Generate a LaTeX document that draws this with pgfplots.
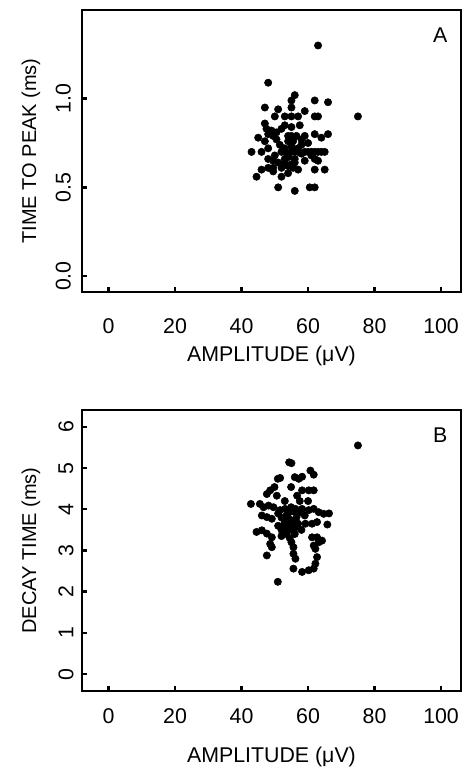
\documentclass[border=0pt]{standalone}
\usepackage{fontspec}
\setmainfont{Liberation Sans}
\usepackage{pgfplots}
\pgfplotsset{compat=1.18}
\begin{document}
\begin{tikzpicture}[font=\fontsize{16pt}{19pt}\selectfont]
\path[use as bounding box] (0,0) rectangle (347.25pt,576pt);
\pgfplotsset{
  myax/.style={
    scale only axis, width=284.25pt, anchor=south west,
    axis line style={line width=2.2pt},
    tick align=inside, xtick pos=bottom, ytick pos=left,
    major tick length=3.5pt, tick style={line width=1.8pt, black},
    xmin=-8, xmax=106,
    xtick={0,20,40,60,80,100}, xticklabels={0,20,40,60,80,100},
    ticklabel style={font=\fontsize{16pt}{19pt}\selectfont},
    only marks, clip=false,
  },
  mymark/.style={mark=*, mark size=2.75pt, black, mark options={fill=black, draw=black}},
}
% Panel A
\begin{axis}[myax, at={(61.5pt,357pt)}, height=211.5pt,
  ymin=-0.09, ymax=1.5, ytick={0,0.5,1.0}, yticklabels={0.0,0.5,1.0},
  xticklabel style={anchor=center, yshift=-25.5pt},
  yticklabel style={rotate=90, anchor=center, yshift=14pt},
]
\addplot[mymark] coordinates {
(63,1.30) (75,0.90) (48,1.09) (56,1.02) (55,0.99) (62,0.99) (66,0.98)
(55,0.95) (47,0.95) (51,0.94) (59,0.93) (50,0.90) (53,0.90) (55,0.90)
(57,0.90) (62,0.90) (63,0.90) (47,0.86) (55,0.84) (47.5,0.83) (49,0.82)
(50.5,0.81) (52,0.83) (45,0.78) (49.5,0.79) (50.5,0.77) (54,0.79) (55,0.79)
(56.5,0.79) (59,0.79) (62,0.80) (64,0.78) (66,0.80) (54,0.76) (55.5,0.76)
(58,0.77) (43,0.70) (46,0.70) (48,0.72) (52,0.70) (53,0.70) (54,0.69)
(55,0.70) (56,0.70) (57,0.70) (58,0.69) (59,0.70) (60,0.70) (61,0.70)
(62,0.70) (63,0.70) (64,0.70) (65,0.70) (53,0.72) (55,0.73) (57,0.72)
(48,0.66) (49.5,0.65) (51,0.64) (53,0.66) (54,0.67) (56,0.66) (62,0.66)
(63,0.65) (48,0.61) (49.5,0.61) (52,0.61) (54,0.62) (55.5,0.61) (57,0.60)
(62,0.60) (65,0.60) (46,0.60) (44.5,0.56) (49.5,0.59) (52,0.56) (54,0.58)
(51,0.50) (56,0.48) (60.5,0.50) (62,0.50) (50,0.68) (58,0.74) (60,0.75)
(51.5,0.74) (53,0.64) (55,0.63) (56,0.64) (59,0.65) (61,0.68) (47,0.76)
(48,0.80) (57.5,0.85) (53,0.85)
};
\node at (axis description cs:0.945,0.911) {A};
\node at (axis description cs:0.5,-0.227) {AMPLITUDE (μV)};
\node[rotate=90, font=\fontsize{15pt}{18pt}\selectfont] at (axis description cs:-0.135,0.5) {TIME TO PEAK (ms)};
\end{axis}
% Panel B
\begin{axis}[myax, at={(61.5pt,57.75pt)}, height=210.75pt,
  ymin=-0.41, ymax=6.41, ytick={0,1,2,3,4,5,6}, yticklabels={0,1,2,3,4,5,6},
  xticklabel style={anchor=center, yshift=-19pt},
  yticklabel style={rotate=90, anchor=center, yshift=12pt},
]
\addplot[mymark] coordinates {
(75,5.55) (54.3,5.14) (55,5.12) (60.7,4.94) (61.7,4.84) (51.6,4.76) (50.9,4.74)
(56,4.78) (57.2,4.74) (58.2,4.79) (54.9,4.54) (49.9,4.54) (48.6,4.46) (47.6,4.37)
(50.6,4.33) (56.7,4.33) (58.2,4.46) (60.2,4.46) (61.7,4.46) (42.8,4.13) (45.5,4.13)
(46.6,4.05) (48.1,4.09) (49.6,4.05) (51.6,3.98) (53.1,4.01) (54.9,4.05) (56.2,4.01)
(58.2,4.01) (60.2,3.98) (61.7,4.01) (63.2,3.93) (64.7,3.89) (66.3,3.90) (46.1,3.85)
(47.6,3.81) (49.1,3.77) (51,3.90) (52,3.80) (53,3.70) (54,3.60) (55,3.50)
(56,3.40) (52.5,3.60) (53.5,3.40) (54.5,3.30) (55.5,3.70) (56.5,3.80) (54,3.90)
(53,3.50) (55,3.20) (52,3.35) (51,3.60) (56,3.55) (57,3.65) (54.5,3.75)
(53.5,3.85) (55.5,3.95) (57,3.90) (52,3.50) (59.2,3.65) (61.2,3.65) (62.7,3.69)
(65.8,3.63) (44.5,3.45) (46.1,3.49) (47.6,3.41) (49.1,3.32) (61.2,3.32) (62.7,3.32)
(64.2,3.24) (63.2,3.20) (48.6,3.16) (49.1,3.08) (61.7,3.12) (62.2,3.04) (55.6,3.08)
(55.6,2.92) (56.2,2.80) (47.6,2.88) (62.7,2.84) (62.2,2.68) (55.6,2.56) (58.2,2.48)
(60.2,2.52) (61.7,2.56) (50.9,2.24) (59,3.85) (58,3.50) (60,4.20) (57.5,4.20)
(53,4.20)
};
\node at (axis description cs:0.945,0.911) {B};
\node at (axis description cs:0.5,-0.235) {AMPLITUDE (μV)};
\node[rotate=90, font=\fontsize{15pt}{18pt}\selectfont] at (axis description cs:-0.135,0.5) {DECAY TIME (ms)};
\end{axis}
\end{tikzpicture}
\end{document}
